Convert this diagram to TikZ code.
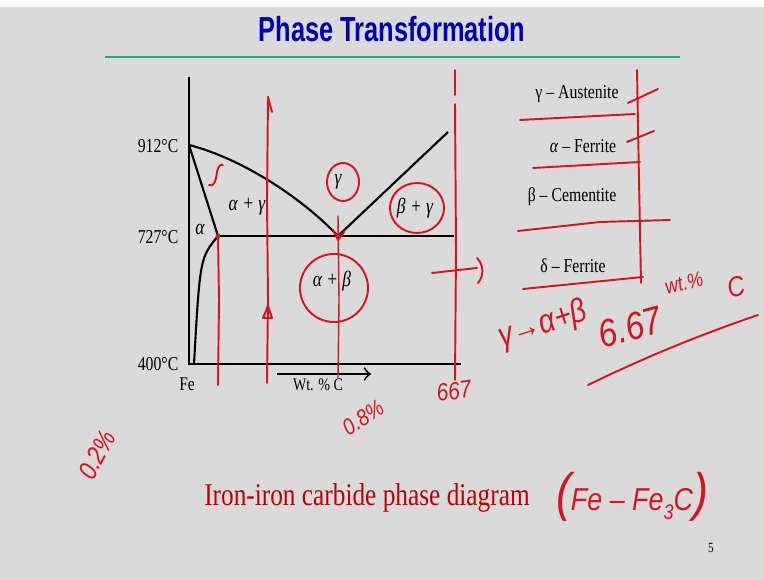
\documentclass[tikz,border=0pt]{standalone}
\usepackage{fontspec}
\setmainfont{Liberation Serif}[FakeStretch=0.8]
\newfontfamily\titlefont{Liberation Sans}[FakeStretch=0.73]
\newfontfamily\handfont{Liberation Sans}[FakeStretch=0.85]
\definecolor{slidegray}{RGB}{218,218,218}
\definecolor{titleblue}{RGB}{0,0,180}
\definecolor{rulegreen}{RGB}{20,180,130}
\definecolor{inkred}{RGB}{215,20,30}
\definecolor{captionred}{RGB}{190,0,0}
\tikzset{
  curve/.style={line width=0.6pt},
  temp/.style={font=\fontsize{5.6}{6}\selectfont, anchor=base east, inner sep=0pt},
  phaselbl/.style={font=\fontsize{6.2}{7}\selectfont\itshape, inner sep=0pt},
  legend/.style={font=\fontsize{5.6}{6}\selectfont, inner sep=0pt},
  redpen/.style={draw=inkred, line width=0.55pt, line cap=round, line join=round},
  hand/.style={text=inkred, inner sep=0pt},
}
\begin{document}
\begin{tikzpicture}[x=0.01cm,y=-0.01cm]
\fill[white] (0,0) rectangle (764,580);
\fill[slidegray] (0,7) rectangle (764,580);
\useasboundingbox (0,0) rectangle (764,580);

% title and rule
\node[font=\titlefont\bfseries\fontsize{9.9}{12}\selectfont, text=titleblue, anchor=base, inner sep=0pt] (title) at (392,42) {Phase Transformation};
\coordinate (ruleL) at (105,57);
\coordinate (ruleR) at (680,57);
\draw[rulegreen, line width=0.8pt] (ruleL) -- (ruleR);

% phase diagram
\coordinate (top) at (189,77);
\coordinate (origin) at (189,364);
\coordinate (xend) at (461,364);
\coordinate (t912) at (189,145);
\coordinate (alim) at (218,236);
\coordinate (eut) at (338,236);
\coordinate (cem) at (454,236);
\coordinate (gcm) at (448,132);
\coordinate (abot) at (194,364);
\draw[curve] (top) -- (origin) -- (xend);
\draw[curve] (t912) -- (alim);
\draw[curve] (t912) .. controls (240,158) and (300,196) .. (eut);
\draw[curve] (eut) -- (gcm);
\draw[curve] (alim) -- (cem);
\draw[curve] (alim) .. controls (200,258) .. (abot);

\node[temp] (l912) at (179,153) {912°C};
\node[temp] (l727) at (179,244) {727°C};
\node[temp] (l400) at (179,371) {400°C};
\node[font=\fontsize{5.5}{6}\selectfont, inner sep=0pt] (fe) at (187,384) {Fe};
\coordinate (wa) at (277,374);
\coordinate (wb) at (371,374);
\draw[->, line width=0.5pt] (wa) -- (wb);
\node[font=\fontsize{5}{6}\selectfont, inner sep=0pt] (wt) at (318,385) {Wt. \% C};

\node[phaselbl] (alpha) at (200,229) {α};
\node[phaselbl] (ag) at (247,207) {α + γ};
\node[phaselbl] (gamma) at (338,182) {γ};
\node[phaselbl] (bg) at (415,208) {β + γ};
\node[phaselbl] (ab) at (332,281) {α + β};

% legend
\node[legend] (leg1) at (577,94) {γ – Austenite};
\node[legend] (leg2) at (583,146) {\textit{α} – Ferrite};
\node[legend] (leg3) at (572,197) {β – Cementite};
\node[legend] (leg4) at (573,266) {δ – Ferrite};

% red pen on the diagram
\draw[redpen] (218,236) -- (219,300) -- (218,385);
\draw[redpen] (268,97) -- (267,200) -- (268,300) -- (267,383);
\draw[redpen] (268,97) -- (272,112);
\draw[redpen] (263,318) -- (268,306) -- (272,318) -- cycle;
\draw[redpen, line width=0.4pt] (338,216) -- (339,300) -- (338,378);
\draw[redpen] (455,70) -- (455,95);
\draw[redpen] (455,104) -- (456,250) -- (455,380);
\fill[inkred] (alim) circle (2.5);
\fill[inkred] (eut) circle (2.5);
\draw[redpen] (333,230) -- (338,240) -- (344,232);
\draw[redpen] (209,185) .. controls (214,188) and (216,180) .. (217,172) .. controls (218,166) and (221,164) .. (223,165);
\draw[redpen] (343,182) ellipse (16 and 19);
\draw[redpen] (417,208) ellipse (27 and 25);
\draw[redpen] (334,288) ellipse (34 and 34);
\draw[redpen] (432,273) -- (477,268);
\draw[redpen] (477,258) .. controls (484,265) and (484,276) .. (478,283);

% red pen on the legend
\draw[redpen] (637,70) -- (639,180) -- (641,283);
\draw[redpen] (520,120) -- (635,114);
\draw[redpen] (533,168) -- (640,162);
\draw[redpen] (518,231) -- (600,222) -- (670,220);
\draw[redpen] (523,289) -- (643,277);
\draw[redpen] (628,103) -- (658,89);
\draw[redpen] (627,142) -- (654,131);

% handwritten notes
\node[hand, font=\handfont\itshape\fontsize{6.5}{7}\selectfont, rotate=33] (n08) at (363,418) {0.8\%};
\node[hand, font=\handfont\itshape\fontsize{7}{8}\selectfont, rotate=8] (n667) at (454,391) {667};
\node[hand, font=\handfont\itshape\fontsize{7.5}{8}\selectfont, rotate=62] (n02) at (97,455) {0.2\%};
\node[hand, font=\handfont\itshape\fontsize{9.5}{10}\selectfont, rotate=18] (rxn) at (543,325) {γ→α+β};
\node[hand, font=\handfont\itshape\fontsize{11}{12}\selectfont, rotate=15] (n667b) at (630,327) {6.67};
\node[hand, font=\handfont\itshape\fontsize{6}{7}\selectfont, rotate=15] (wtp) at (684,283) {wt.\%};
\node[hand, font=\handfont\itshape\fontsize{8}{9}\selectfont, rotate=15] (cc) at (736,287) {C};
\draw[redpen] (588,385) .. controls (650,355) and (700,335) .. (758,315);
\node[hand, font=\handfont\itshape\fontsize{9}{10}\selectfont] (fe3c) at (632,497) {{\fontsize{15}{15}\selectfont (}Fe – Fe\raisebox{-0.5ex}{\fontsize{6}{6}\selectfont 3}C{\fontsize{15}{15}\selectfont )}};

% caption
\node[font=\fontsize{9}{10}\selectfont, text=captionred, anchor=base, inner sep=0pt] (caption) at (367,506) {Iron-iron carbide phase diagram};
\node[font=\fontsize{4}{5}\selectfont, inner sep=0pt] (page) at (711,548) {5};
\end{tikzpicture}
\end{document}
